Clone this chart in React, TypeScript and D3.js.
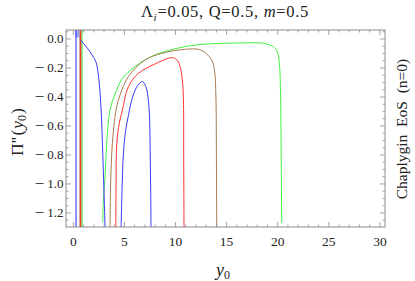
import React from 'react';
import * as d3 from 'd3';

// curve samples: [y0, Pi''(y0)]
const blueDrop: [number, number][] = [
  [0.66, -0.005], [1.1, -0.04], [1.63, -0.088], [2.0, -0.13], [2.22, -0.16],
  [2.45, -0.25], [2.62, -0.38], [2.74, -0.52], [2.86, -0.75], [2.96, -0.97], [3.04, -1.15], [3.1, -1.3],
];
const blueDome: [number, number][] = [
  [4.67, -1.3], [4.78, -1.0], [4.9, -0.79], [5.1, -0.64], [5.38, -0.53], [5.8, -0.4],
  [6.3, -0.32], [6.75, -0.294], [7.1, -0.33], [7.35, -0.43], [7.46, -0.55], [7.52, -0.8], [7.57, -1.05], [7.6, -1.3],
];
const redLoop: [number, number][] = [
  [4.15, -1.3], [4.18, -1.0], [4.25, -0.72], [4.5, -0.58], [4.8, -0.49], [5.38, -0.33],
  [6.36, -0.237], [8.0, -0.172], [9.3, -0.133], [9.8, -0.13], [10.2, -0.15], [10.44, -0.19],
  [10.68, -0.29], [10.78, -0.45], [10.8, -0.8], [10.83, -1.3],
];
const brownLoop: [number, number][] = [
  [3.59, -1.3], [3.65, -1.0], [3.82, -0.72], [4.18, -0.49], [4.6, -0.38], [5.38, -0.26],
  [7.0, -0.145], [8.65, -0.099], [10.45, -0.075], [12.0, -0.069], [12.6, -0.08], [13.05, -0.103],
  [13.54, -0.145], [13.82, -0.22], [13.95, -0.4], [14.0, -0.8], [14.03, -1.3],
];
const greenLoop: [number, number][] = [
  [2.87, -1.27], [2.95, -1.1], [3.1, -0.95], [3.3, -0.68], [3.59, -0.49], [4.08, -0.38],
  [4.73, -0.28], [6.04, -0.19], [8.0, -0.11], [10.3, -0.062], [11.9, -0.042], [13.7, -0.032],
  [16.0, -0.028], [18.6, -0.03], [19.57, -0.053], [19.96, -0.088], [20.16, -0.168],
  [20.28, -0.4], [20.34, -0.8], [20.39, -1.27],
];
// near-vertical branches close to y0 = 0
const verticalNames = ['blue', 'brown', 'red', 'green'];
const verticalAt = [0.26, 0.65, 0.72, 0.85];
const blueBandX = [0.2, 0.6];
const blueBandY = [0.01, 0.062];

const xTicks = [0, 5, 10, 15, 20, 25, 30];
const yTicks = [0, -0.2, -0.4, -0.6, -0.8, -1.0, -1.2];

const colors: Record<string, string> = {
  blue: '#3838ff',
  red: '#ff3030',
  green: '#40f040',
  brown: '#a87a50',
};

export default function App() {
  const width = 415;
  const height = 281;
  const margin = { top: 30, right: 30, bottom: 54, left: 66 };
  const x = d3.scaleLinear().domain([-0.72, 30.5]).range([margin.left, width - margin.right]);
  const y = d3.scaleLinear().domain([0.062, -1.297]).range([margin.top, height - margin.bottom]);
  const [x0, x1] = x.range();
  const [y0, y1] = y.range();

  const line = d3
    .line<[number, number]>()
    .x(d => x(d[0]))
    .y(d => y(d[1]))
    .curve(d3.curveCatmullRom.alpha(0.5));

  const curves = [
    { c: 'green', d: greenLoop },
    { c: 'brown', d: brownLoop },
    { c: 'red', d: redLoop },
    { c: 'blue', d: blueDome },
    { c: 'blue', d: blueDrop },
  ];

  const xMinor = d3.range(0, 31, 1);
  const yMinor = d3.range(-1.25, 0.051, 0.05).map(v => Math.round(v * 100) / 100);
  const tickColor = '#8c8c8c';

  return (
    <svg width={width} height={height} style={{ position: 'absolute', left: 0, top: 0 }}
      fontFamily="'Liberation Serif', 'DejaVu Serif', serif">
      <defs>
        <clipPath id="plot">
          <rect x={x0} y={y0} width={x1 - x0} height={y1 - y0} />
        </clipPath>
      </defs>
      <rect width={width} height={height} fill="#fff" />

      <g clipPath="url(#plot)" fill="none" strokeWidth={1}>
        <rect
          x={x(blueBandX[0])}
          y={y(blueBandY[1])}
          width={x(blueBandX[1]) - x(blueBandX[0])}
          height={y(blueBandY[0]) - y(blueBandY[1])}
          fill="#9aa8ff"
          stroke="none"
        />
        {verticalAt.map((v, i) => (
          <line key={i} x1={x(v)} x2={x(v)} y1={y0} y2={y1}
            stroke={colors[verticalNames[i]]} strokeWidth={i === 2 ? 1.6 : 1.1} />
        ))}
        {curves.map((k, i) => (
          <path key={i} d={line(k.d) ?? ''} stroke={colors[k.c]} />
        ))}
      </g>

      {/* frame and ticks */}
      <rect x={x0} y={y0} width={x1 - x0} height={y1 - y0} fill="none" stroke={tickColor} strokeWidth={1} />
      <g stroke={tickColor} strokeWidth={0.8}>
        {xMinor.map(v => {
          const len = v % 5 === 0 ? 5 : 2.5;
          return (
            <g key={'x' + v}>
              <line x1={x(v)} x2={x(v)} y1={y1} y2={y1 - len} />
              <line x1={x(v)} x2={x(v)} y1={y0} y2={y0 + len} />
            </g>
          );
        })}
        {yMinor.map(v => {
          const major = Math.abs(Math.round(v * 5) - v * 5) < 1e-6;
          const len = major ? 5 : 2.5;
          return (
            <g key={'y' + v}>
              <line x1={x0} x2={x0 + len} y1={y(v)} y2={y(v)} />
              <line x1={x1} x2={x1 - len} y1={y(v)} y2={y(v)} />
            </g>
          );
        })}
      </g>

      <g fill="#222">
        {xTicks.map(v => (
          <text key={v} x={x(v)} y={y1 + 19} fontSize={13.5} textAnchor="middle">{v}</text>
        ))}
        {yTicks.map(v => (
          <text key={v} x={x0 - 2.5} y={y(v) + 4.5} fontSize={13} textAnchor="end">
            {v < 0 && <tspan fontSize={17} dy={0.8}>−</tspan>}
            <tspan dx={v < 0 ? 3 : 0} dy={v < 0 ? -0.8 : 0}>{Math.abs(v).toFixed(1)}</tspan>
          </text>
        ))}
      </g>

      <text x={225} y={17} fontSize={16.5} letterSpacing={0.7} textAnchor="middle" fill="#222">
        Λ<tspan fontSize={11} fontStyle="italic" dy={4}>i</tspan>
        <tspan dy={-4}>=0.05, Q=0.5, </tspan>
        <tspan fontStyle="italic">m</tspan>=0.5
      </text>

      <text x={216} y={276} fontSize={18} fill="#222">
        <tspan fontStyle="italic">y</tspan>
        <tspan fontSize={12} dy={3}>0</tspan>
      </text>

      <text transform={`translate(23, 132) rotate(-90)`} fontSize={17.5}
        textAnchor="middle" fill="#222">
        Π''<tspan dx={1.5}>(</tspan><tspan fontStyle="italic" dx={1}>y</tspan>
        <tspan fontSize={12} dy={3}>0</tspan><tspan dy={-3} dx={1}>)</tspan>
      </text>

      <text transform={`translate(407, 129) rotate(-90)`} fontSize={15.5} textAnchor="middle"
        fill="#222" style={{ whiteSpace: 'pre' }}>
        {'Chaplygin  EoS  (n=0)'}
      </text>
    </svg>
  );
}
